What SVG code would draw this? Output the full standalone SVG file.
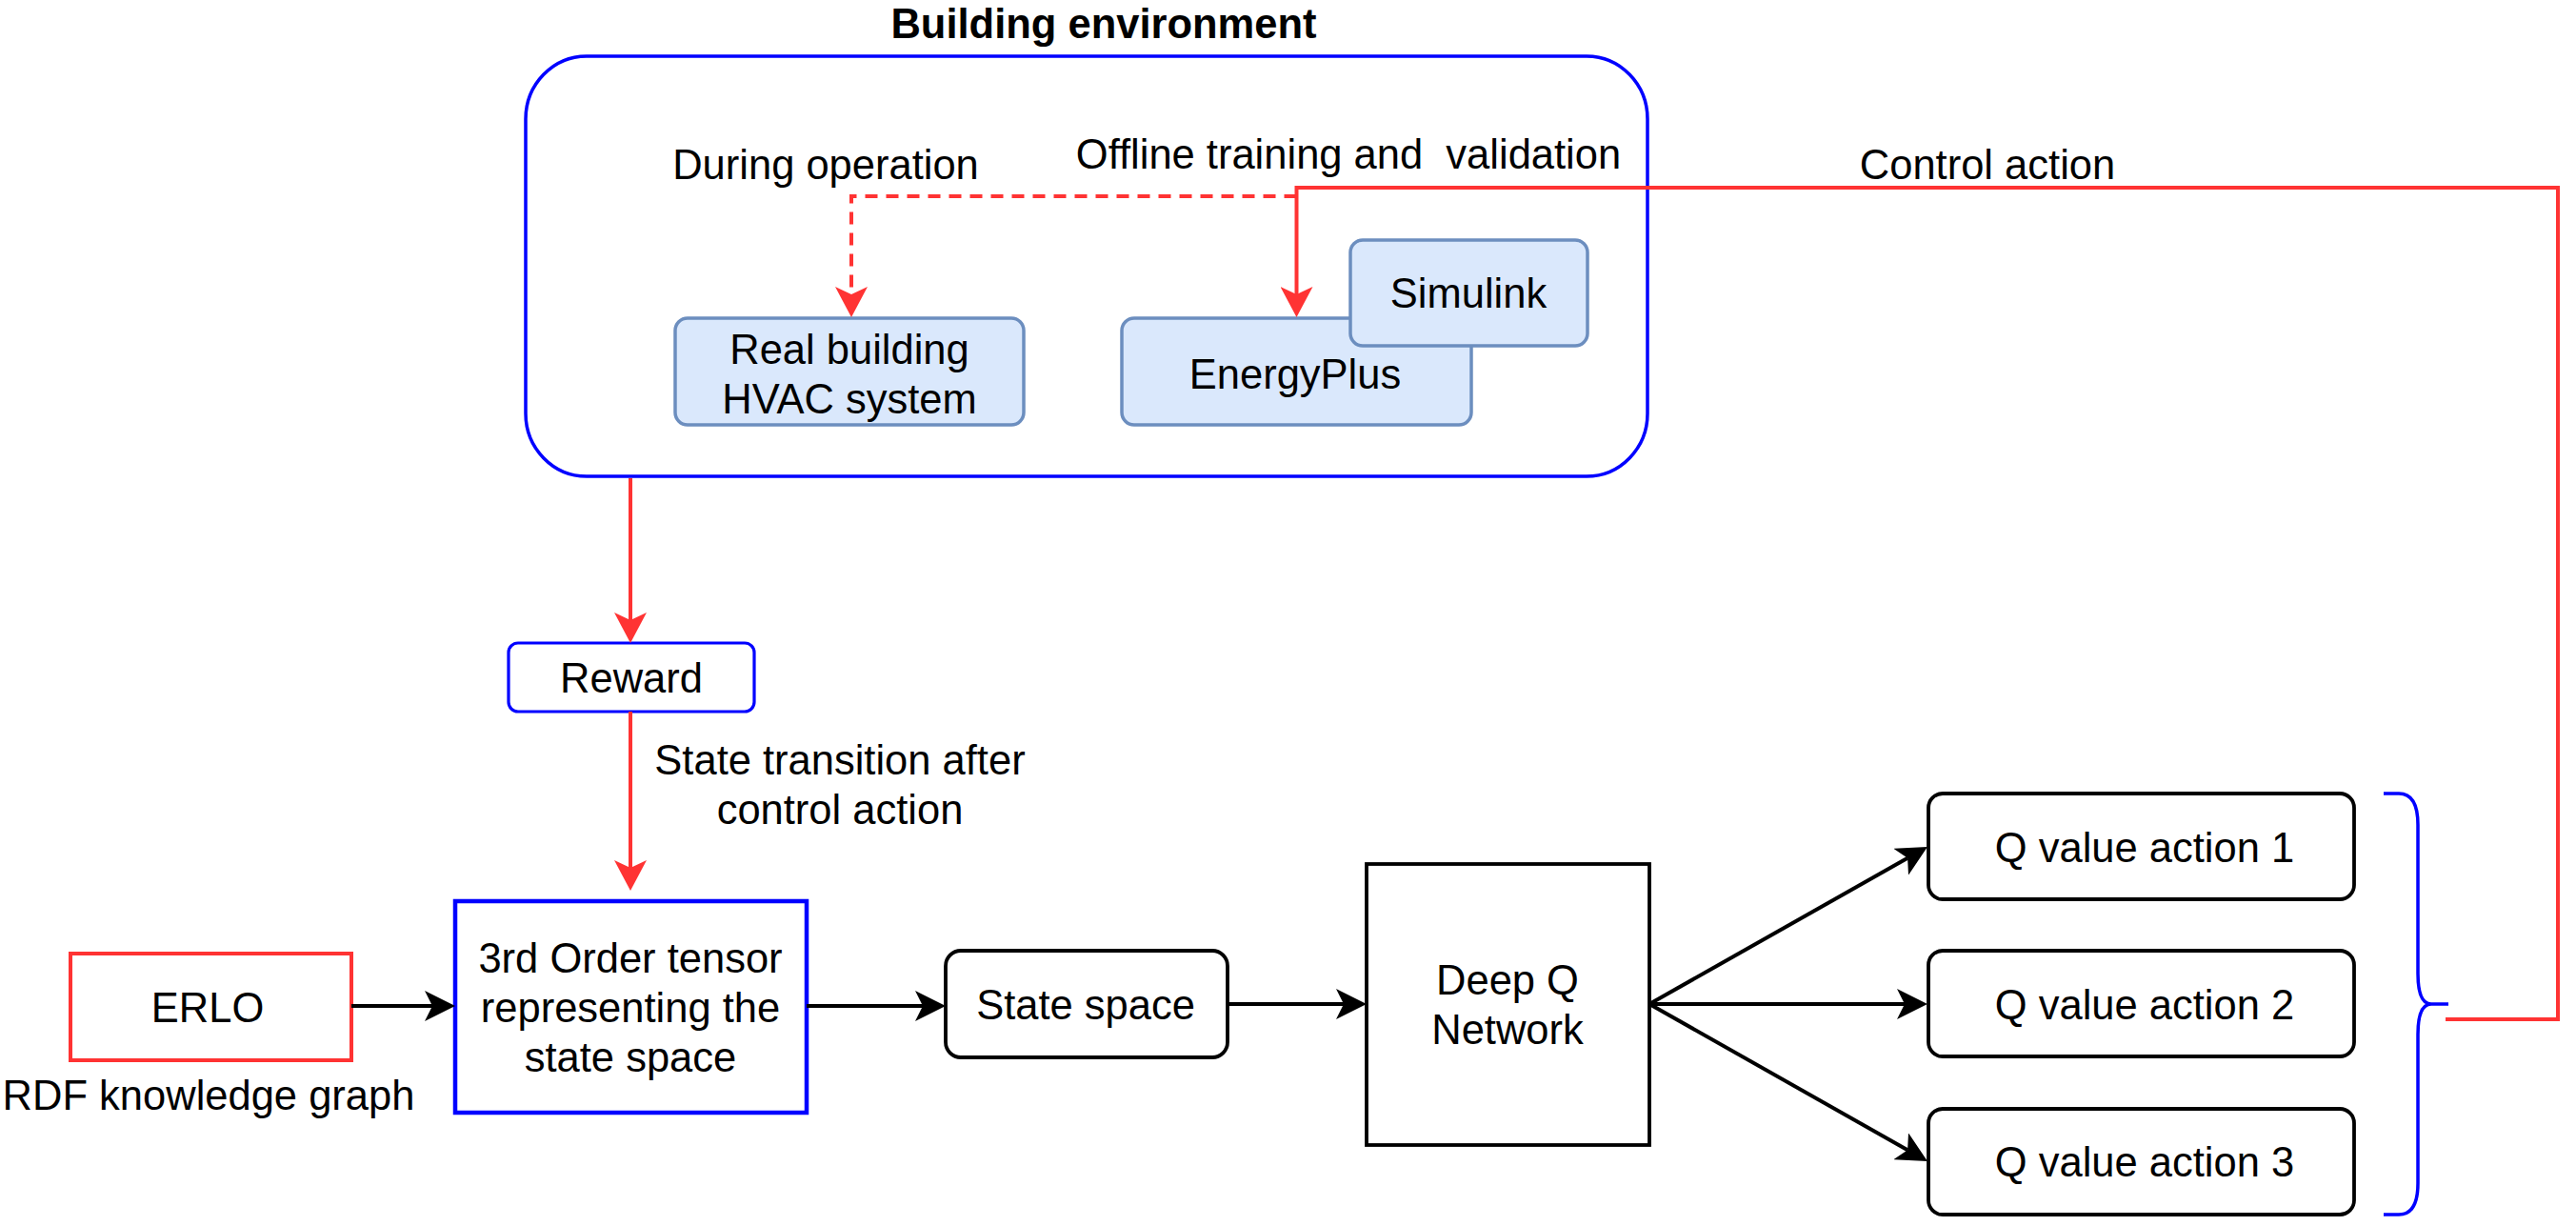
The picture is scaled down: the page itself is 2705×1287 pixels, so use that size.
<svg xmlns="http://www.w3.org/2000/svg" width="2705" height="1287" viewBox="0 0 2705 1287">
<style>
.t{font-family:"Liberation Sans",Arial,Helvetica,sans-serif;font-size:43.5px;fill:#000;text-anchor:middle}
.b{font-weight:bold}
.hv{fill:#dae8fc;stroke:#6c8ebf;stroke-width:3.5}
.bk{fill:#fff;stroke:#000;stroke-width:3.8}
.cb{fill:none;stroke:#000;stroke-width:4}
.cr{fill:none;stroke:#ff3333;stroke-width:4}
</style>
<defs>
<marker id="ab" markerUnits="userSpaceOnUse" markerWidth="32" markerHeight="32" viewBox="0 0 32 32" refX="8" refY="16" orient="auto"><path d="M32,16 L0,0 L8,16 L0,32 Z" fill="#000"/></marker>
<marker id="ar" markerUnits="userSpaceOnUse" markerWidth="32" markerHeight="34" viewBox="0 0 32 34" refX="8" refY="17" orient="auto"><path d="M32,17 L0,0 L8,17 L0,34 Z" fill="#ff3333"/></marker>
</defs>
<rect width="2705" height="1287" fill="#fff"/>

<g id="building-environment">
<rect x="552" y="59" width="1178" height="441" rx="64" ry="66" fill="none" stroke="#0000ff" stroke-width="3.5"/>
<text class="t b" x="1159" y="40">Building environment</text>
<text class="t" x="867" y="188">During operation</text>
<text class="t" x="1416" y="177" xml:space="preserve" style="white-space:pre">Offline training and  validation</text>
</g>

<g id="real-building">
<rect class="hv" x="709" y="334" width="366" height="112" rx="13"/>
<text class="t" x="892" y="382">Real building</text>
<text class="t" x="892" y="434">HVAC system</text>
</g>

<g id="energyplus">
<rect class="hv" x="1178" y="334" width="367" height="112" rx="13"/>
<text class="t" x="1360" y="408">EnergyPlus</text>
</g>

<g id="simulink">
<rect class="hv" x="1418" y="252" width="249" height="111" rx="13"/>
<text class="t" x="1542" y="323">Simulink</text>
</g>

<g id="control-action-label">
<text class="t" x="2087" y="188">Control action</text>
</g>

<g id="reward">
<rect x="534" y="675" width="258" height="72" rx="10" fill="#fff" stroke="#0000ff" stroke-width="3.2"/>
<text class="t" x="663" y="727">Reward</text>
</g>

<g id="state-transition-label">
<text class="t" x="882" y="813">State transition after</text>
<text class="t" x="882" y="865">control action</text>
</g>

<g id="erlo">
<rect x="74" y="1001" width="295" height="112" fill="#fff" stroke="#ff3333" stroke-width="4"/>
<text class="t" x="218" y="1073">ERLO</text>
<text class="t" x="219" y="1165">RDF knowledge graph</text>
</g>

<g id="tensor">
<rect x="478" y="946" width="369" height="222" fill="#fff" stroke="#0000ff" stroke-width="4.5"/>
<text class="t" x="662" y="1021">3rd Order tensor</text>
<text class="t" x="662" y="1073">representing the</text>
<text class="t" x="662" y="1125">state space</text>
</g>

<g id="state-space">
<rect class="bk" x="993" y="998" width="296" height="112" rx="16"/>
<text class="t" x="1140" y="1070">State space</text>
</g>

<g id="deep-q">
<rect class="bk" x="1435" y="907" width="297" height="295"/>
<text class="t" x="1583" y="1044">Deep Q</text>
<text class="t" x="1583" y="1096">Network</text>
</g>

<g id="q1">
<rect class="bk" x="2025" y="833" width="447" height="111" rx="15"/>
<text class="t" x="2252" y="905">Q value action 1</text>
</g>
<g id="q2">
<rect class="bk" x="2025" y="998" width="447" height="111" rx="15"/>
<text class="t" x="2252" y="1070">Q value action 2</text>
</g>
<g id="q3">
<rect class="bk" x="2025" y="1164" width="447" height="111" rx="15"/>
<text class="t" x="2252" y="1235">Q value action 3</text>
</g>

<g id="brace">
<path d="M2503,833 L2519,833 Q2539,833 2539,866 L2539,1022 Q2539,1054 2553,1054 L2571,1054 M2553,1054 Q2539,1054 2539,1086 L2539,1242 Q2539,1275 2519,1275 L2503,1275" fill="none" stroke="#0000ff" stroke-width="3.5"/>
</g>

<g id="connectors">
<path class="cr" d="M1361.5,206 H894 V309" stroke-dasharray="13 9" marker-end="url(#ar)"/>
<path class="cr" d="M2568,1070 H2686 V197 H1361.5 V309" marker-end="url(#ar)"/>
<path class="cr" d="M662,502 V651" marker-end="url(#ar)"/>
<path class="cr" d="M662,747 V911" marker-end="url(#ar)"/>
<path class="cb" d="M369,1056 H454" marker-end="url(#ab)"/>
<path class="cb" d="M847,1056 H969" marker-end="url(#ab)"/>
<path class="cb" d="M1289,1054 H1411" marker-end="url(#ab)"/>
<path class="cb" d="M1732,1054 L2003.1,900.8" marker-end="url(#ab)"/>
<path class="cb" d="M1732,1054 H2000" marker-end="url(#ab)"/>
<path class="cb" d="M1732,1054 L2003.1,1207.2" marker-end="url(#ab)"/>
</g>
</svg>
